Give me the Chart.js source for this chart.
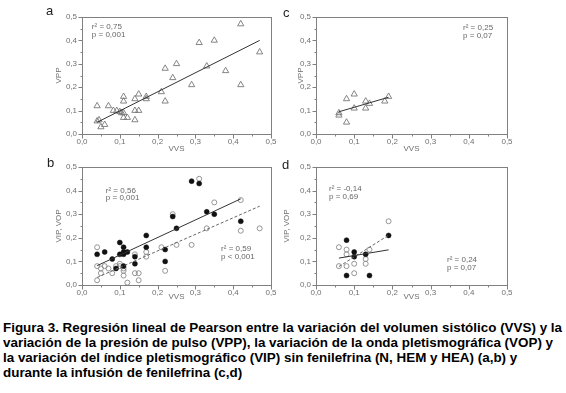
<!DOCTYPE html>
<html><head><meta charset="utf-8">
<script src="https://cdn.jsdelivr.net/npm/chart.js@4"></script>
<style>
body{margin:0;background:#fff;width:566px;height:393px;position:relative;overflow:hidden;font-family:"Liberation Sans",Arial,sans-serif}
canvas{position:absolute}
.lbl{position:absolute;font-size:13px;color:#222;line-height:13px}
#cap{position:absolute;left:3px;top:320px;font-weight:bold;font-size:13px;line-height:15px;color:#000;white-space:nowrap;transform-origin:0 0}
</style></head><body>
<canvas id="ca" width="260" height="160" style="left:20px;top:0"></canvas>
<canvas id="cc" width="240" height="160" style="left:280px;top:0"></canvas>
<canvas id="cb" width="260" height="160" style="left:20px;top:150px"></canvas>
<canvas id="cd" width="240" height="160" style="left:280px;top:150px"></canvas>
<div class="lbl" style="left:46px;top:4px">a</div>
<div class="lbl" style="left:283px;top:6px">c</div>
<div class="lbl" style="left:47px;top:156px">b</div>
<div class="lbl" style="left:282px;top:158px">d</div>
<div id="cap">
<div>Figura 3. Regresión lineal de Pearson entre la variación del volumen sistólico (VVS) y la</div>
<div>variación de la presión de pulso (VPP), la variación de la onda pletismográfica (VOP) y</div>
<div>la variación del índice pletismográfico (VIP) sin fenilefrina (N, HEM y HEA) (a,b) y</div>
<div>durante la infusión de fenilefrina (c,d)</div>
</div>
<script>
// ---- Data ----
const aX = [0.04,0.04,0.045,0.05,0.06,0.07,0.083,0.092,0.10,0.105,0.11,0.11,0.11,0.11,0.12,0.14,0.15,0.14,0.15,0.14,0.17,0.17,0.21,0.22,0.22,0.24,0.25,0.29,0.31,0.33,0.35,0.38,0.42,0.42,0.47];
const aY = [0.12,0.055,0.06,0.03,0.04,0.12,0.10,0.10,0.095,0.09,0.09,0.16,0.14,0.07,0.07,0.15,0.17,0.10,0.10,0.06,0.16,0.15,0.18,0.28,0.14,0.24,0.30,0.21,0.39,0.29,0.40,0.27,0.47,0.21,0.35];
const aLineX = [0.04,0.47], aLineY = [0.05,0.40];

const bFillX = [0.04,0.06,0.08,0.09,0.10,0.10,0.11,0.11,0.11,0.11,0.12,0.14,0.14,0.17,0.17,0.22,0.22,0.24,0.25,0.29,0.31,0.33,0.35,0.42];
const bFillY = [0.13,0.14,0.11,0.07,0.18,0.13,0.16,0.14,0.13,0.08,0.14,0.12,0.09,0.21,0.16,0.15,0.10,0.29,0.24,0.44,0.43,0.31,0.30,0.27];
const bOpenX = [0.04,0.04,0.04,0.05,0.05,0.06,0.07,0.08,0.09,0.10,0.10,0.11,0.11,0.11,0.12,0.14,0.14,0.15,0.15,0.17,0.17,0.21,0.22,0.24,0.25,0.29,0.31,0.33,0.35,0.42,0.42,0.47];
const bOpenY = [0.16,0.08,0.02,0.05,0.07,0.08,0.07,0.05,0.08,0.08,0.09,0.07,0.04,0.06,0.01,0.13,0.05,0.05,0.02,0.14,0.12,0.16,0.06,0.30,0.17,0.17,0.45,0.24,0.35,0.36,0.23,0.24];
const bSolidX = [0.04,0.42], bSolidY = [0.082,0.365];
const bDashX = [0.04,0.47], bDashY = [0.032,0.334];

const cX = [0.06,0.06,0.08,0.08,0.10,0.10,0.13,0.13,0.14,0.18,0.19];
const cY = [0.09,0.08,0.15,0.05,0.17,0.11,0.14,0.11,0.13,0.14,0.16];
const cLineX = [0.06,0.19], cLineY = [0.095,0.157];

const dFillX = [0.08,0.08,0.10,0.10,0.13,0.14,0.19];
const dFillY = [0.19,0.04,0.14,0.12,0.13,0.04,0.21];
const dOpenX = [0.06,0.06,0.08,0.08,0.08,0.10,0.10,0.13,0.13,0.14,0.19];
const dOpenY = [0.16,0.08,0.15,0.13,0.08,0.09,0.05,0.11,0.09,0.15,0.27];
const dSolidX = [0.06,0.19], dSolidY = [0.114,0.149];
const dDashX = [0.06,0.19], dDashY = [0.078,0.211];

const axisTicks = [0,0.1,0.2,0.3,0.4,0.5];
const tickLabels = ['0,0','0,1','0,2','0,3','0,4','0,5'];

// ---- Helpers ----
const pts = (xs, ys) => xs.map((x, i) => ({x, y: ys[i]}));
const GRAY = '#808080', TXT = '#707070';
const FONT = '"Liberation Sans", Arial, sans-serif';

const decor = {
  id: 'decor',
  afterDraw(chart, args, opts) {
    const {ctx, chartArea: ca, scales: {x, y}} = chart;
    ctx.save();
    ctx.strokeStyle = GRAY; ctx.lineWidth = 1;
    const L = Math.round(ca.left) + 0.5, T = Math.round(ca.top) + 0.5;
    const R = Math.round(ca.right) + 0.5, B = Math.round(ca.bottom) + 0.5;
    ctx.strokeRect(L, T, R - L, B - T);
    ctx.beginPath();
    for (let i = 0; i < axisTicks.length; i++) {
      const vMaj = axisTicks[i];
      const px = Math.round(x.getPixelForValue(vMaj)) + 0.5;
      const py = Math.round(y.getPixelForValue(vMaj)) + 0.5;
      ctx.moveTo(px, B); ctx.lineTo(px, B + 4);
      ctx.moveTo(L, py); ctx.lineTo(L - 4, py);
      if (i < axisTicks.length - 1) {
        const vMin = (axisTicks[i] + axisTicks[i + 1]) / 2;
        const qx = Math.round(x.getPixelForValue(vMin)) + 0.5;
        const qy = Math.round(y.getPixelForValue(vMin)) + 0.5;
        ctx.moveTo(qx, B); ctx.lineTo(qx, B + 2);
        ctx.moveTo(L, qy); ctx.lineTo(L - 2, qy);
      }
    }
    ctx.stroke();
    ctx.font = '8px ' + FONT;
    ctx.fillStyle = '#666'; ctx.textBaseline = 'middle'; ctx.textAlign = 'left';
    (opts.notes || []).forEach(n => ctx.fillText(n.t, x.getPixelForValue(n.x), y.getPixelForValue(n.y)));
    ctx.restore();
  }
};

function makeChart(id, W, H, box, yTitle, yTitlePad, xTitlePad, datasets, notes) {
  const fmt = v => {
    const i = axisTicks.findIndex(t => Math.abs(t - v) < 1e-6);
    return i >= 0 ? tickLabels[i] : '';
  };
  return new Chart(document.getElementById(id), {
    type: 'scatter',
    data: {datasets},
    plugins: [decor],
    options: {
      responsive: false, animation: false, devicePixelRatio: 1,
      layout: {padding: {top: box.top, right: W - box.right, left: 0, bottom: 0}},
      plugins: {legend: {display: false}, tooltip: {enabled: false}, decor: {notes}},
      scales: {
        x: {
          type: 'linear', min: 0, max: 0.5,
          afterFit: s => { s.height = H - box.bottom; },
          grid: {display: false, drawTicks: false, tickLength: 0}, border: {display: false},
          ticks: {stepSize: 0.1, autoSkip: false, maxRotation: 0, padding: 3, color: TXT, font: {size: 8, family: FONT}, callback: fmt},
          title: {display: true, text: 'VVS', color: TXT, font: {size: 8, family: FONT}, padding: {top: 0, bottom: xTitlePad}}
        },
        y: {
          type: 'linear', min: 0, max: 0.5,
          afterFit: s => { s.width = box.left; },
          grid: {display: false, drawTicks: false, tickLength: 0}, border: {display: false},
          ticks: {stepSize: 0.1, autoSkip: false, padding: 5, color: TXT, font: {size: 8, family: FONT}, callback: fmt},
          title: {display: true, text: yTitle, color: TXT, font: {size: 8, family: FONT}, padding: {top: yTitlePad, bottom: 0}}
        }
      }
    }
  });
}

const tri = (xs, ys) => ({data: pts(xs, ys), pointStyle: 'triangle', pointRadius: 3.6, pointBorderColor: '#777', pointBackgroundColor: 'rgba(0,0,0,0)', pointBorderWidth: 0.9, order: 2});
const filled = (xs, ys) => ({data: pts(xs, ys), pointStyle: 'circle', pointRadius: 2.5, pointBorderColor: '#111', pointBackgroundColor: '#111', pointBorderWidth: 0.5, order: 1});
const open = (xs, ys) => ({data: pts(xs, ys), pointStyle: 'circle', pointRadius: 2.5, pointBorderColor: '#8a8a8a', pointBackgroundColor: 'rgba(0,0,0,0)', pointBorderWidth: 0.9, order: 2});
const line = (xs, ys, dash, col) => ({type: 'line', data: pts(xs, ys), showLine: true, borderColor: col, borderWidth: 1, borderDash: dash, pointRadius: 0, fill: false, order: 0});

makeChart('ca', 260, 160, {left: 62, right: 251, top: 17, bottom: 134}, 'VPP', 34, 6,
  [tri(aX, aY), line(aLineX, aLineY, [], '#333')],
  [{t: 'r² = 0,75', x: 0.026, y: 0.457}, {t: 'p = 0,001', x: 0.026, y: 0.423}]);

makeChart('cc', 240, 160, {left: 36, right: 227, top: 17, bottom: 134}, 'VPP', 16, 6,
  [tri(cX, cY), line(cLineX, cLineY, [], '#333')],
  [{t: 'r² = 0,25', x: 0.385, y: 0.453}, {t: 'p = 0,07', x: 0.385, y: 0.419}]);

makeChart('cb', 260, 160, {left: 62, right: 251, top: 17, bottom: 135}, 'VIP, VOP', 34, 8,
  [filled(bFillX, bFillY), open(bOpenX, bOpenY), line(bSolidX, bSolidY, [], '#333'), line(bDashX, bDashY, [3, 2], '#666')],
  [{t: 'r² = 0,56', x: 0.063, y: 0.398}, {t: 'p = 0,001', x: 0.063, y: 0.369},
   {t: 'r² = 0,59', x: 0.368, y: 0.153}, {t: 'p < 0,001', x: 0.368, y: 0.119}]);

makeChart('cd', 240, 160, {left: 36, right: 227, top: 17, bottom: 135}, 'VIP, VOP', 2, 8,
  [filled(dFillX, dFillY), open(dOpenX, dOpenY), line(dSolidX, dSolidY, [], '#333'), line(dDashX, dDashY, [3, 2], '#666')],
  [{t: 'r² = -0,14', x: 0.034, y: 0.407}, {t: 'p = 0,69', x: 0.034, y: 0.373},
   {t: 'r² = 0,24', x: 0.343, y: 0.106}, {t: 'p = 0,07', x: 0.343, y: 0.072}]);

// fit caption width
const cap = document.getElementById('cap');
const first = cap.children[0];
const range = document.createRange(); range.selectNodeContents(first);
const w = range.getBoundingClientRect().width;
cap.style.transform = 'scaleX(' + (559 / w) + ')';
</script>
</body></html>
